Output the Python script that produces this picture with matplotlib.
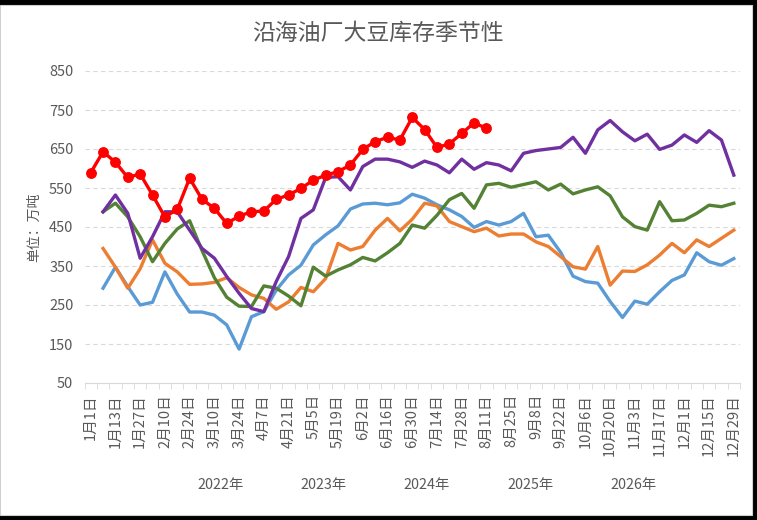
import numpy as np
import matplotlib
matplotlib.use("Agg")
import matplotlib.pyplot as plt
from matplotlib.patches import Rectangle

plt.rcParams['font.family'] = ['Noto Sans CJK SC', 'DejaVu Sans']

nan = np.nan
dates = ["1月1日", "1月6日", "1月13日", "1月20日", "1月27日", "2月3日", "2月10日", "2月17日",
         "2月24日", "3月3日", "3月10日", "3月17日", "3月24日", "3月31日", "4月7日", "4月14日",
         "4月21日", "4月28日", "5月5日", "5月12日", "5月19日", "5月26日", "6月2日", "6月9日",
         "6月16日", "6月23日", "6月30日", "7月7日", "7月14日", "7月21日", "7月28日", "8月4日",
         "8月11日", "8月18日", "8月25日", "9月1日", "9月8日", "9月15日", "9月22日", "9月29日",
         "10月6日", "10月13日", "10月20日", "10月27日", "11月3日", "11月10日", "11月17日",
         "11月24日", "12月1日", "12月8日", "12月15日", "12月22日", "12月29日"]

s2022 = [nan, 293, 347, 297, 250, 257, 335, 278, 232, 232, 224, 199, 137, 220, 233, 288, 327,
         352, 404, 430, 453, 496, 509, 511, 507, 512, 534, 524, 507, 494, 477, 449, 464, 455,
         464, 485, 425, 429, 385, 324, 310, 306, 259, 218, 260, 252, 284, 313, 327, 384, 361,
         352, 369]
s2023 = [nan, 395, 347, 293, 343, 417, 357, 335, 303, 304, 308, 320, 295, 276, 267, 239, 258,
         295, 284, 318, 408, 391, 400, 442, 472, 440, 470, 511, 504, 464, 451, 438, 447, 427,
         432, 432, 412, 400, 374, 348, 342, 400, 301, 337, 336, 353, 378, 408, 384, 417, 400,
         421, 442]
s2024 = [nan, 489, 511, 476, 425, 361, 408, 445, 466, 390, 320, 270, 247, 246, 299, 293, 273,
         248, 347, 324, 340, 353, 372, 363, 384, 408, 455, 447, 480, 520, 536, 498, 558, 562,
         552, 559, 566, 545, 560, 535, 545, 553, 530, 476, 451, 442, 515, 466, 468, 485, 506,
         502, 511]
s2025 = [nan, 489, 532, 485, 370, 425, 489, 489, 442, 395, 370, 323, 280, 241, 233, 310, 374,
         472, 494, 577, 579, 545, 605, 624, 624, 617, 603, 619, 609, 589, 624, 598, 615, 609,
         594, 639, 646, 650, 654, 680, 639, 699, 723, 694, 671, 688, 649, 660, 686, 667, 697,
         673, 583]
s2026 = [589, 643, 616, 577, 586, 532, 476, 495, 575, 521, 498, 459, 478, 489, 491, 521, 532,
         549, 570, 583, 592, 609, 649, 669, 680, 673, 731, 700, 654, 663, 690, 717, 703]

years = ["2022年", "2023年", "2024年", "2025年", "2026年"]
colors = ["#5B9BD5", "#ED7D31", "#548235", "#7030A0", "#FF0000"]
series = [s2022, s2023, s2024, s2025, s2026]

W, H = 757, 520
fig = plt.figure(figsize=(W / 100, H / 100), dpi=100)
fig.patch.set_facecolor('black')
bg = Rectangle((0, 5 / H), 752 / W, (515 - 5) / H, transform=fig.transFigure,
               facecolor='white', edgecolor='#d0d0d0', lw=0.8, zorder=-10)
fig.patches.append(bg)

ax = fig.add_axes([84.5 / W, 1 - 383 / H, (740 - 84.5) / W, (383 - 71) / H])
ax.set_facecolor('none')
ax.set_zorder(5)

txt = '#595959'
handles = []
for name, col, s in zip(years, colors, series):
    x = np.arange(len(s))
    if name == "2026年":
        h, = ax.plot(x, s, color=col, lw=2.4, marker='o', markersize=6.8, zorder=5,
                     solid_joinstyle='round')
    else:
        h, = ax.plot(x, s, color=col, lw=2.4, zorder=3, solid_joinstyle='round')
    handles.append(h)

ax.set_xlim(-0.5, len(dates) - 0.5)
ax.set_ylim(50, 850)
ax.set_yticks(np.arange(50, 851, 100))
ax.yaxis.grid(True, color='#d9d9d9', linestyle=(0, (4, 3)), lw=0.8)
ax.set_axisbelow(True)
for sp in ['top', 'right', 'left']:
    ax.spines[sp].set_visible(False)
ax.spines['bottom'].set_color('#d9d9d9')
ax.tick_params(axis='y', length=0, labelsize=10.5, labelcolor=txt, pad=8)

ax.set_xticks(np.arange(0, len(dates), 2))
ax.set_xticklabels(dates[::2], rotation=90, fontsize=10.5, color=txt)
ax.set_xticks(np.arange(-0.5, len(dates), 1), minor=True)
ax.tick_params(axis='x', which='major', length=0, pad=8)
ax.tick_params(axis='x', which='minor', length=4, color='#d9d9d9', direction='out')

ax.set_ylabel("单位：万吨", fontsize=10, color=txt, labelpad=6)

fig.text(378 / W, 1 - 33 / H, "沿海油厂大豆库存季节性", ha='center', va='center',
         fontsize=16.5, color=txt)

leg = fig.legend(handles, years, loc='center', bbox_to_anchor=(427 / W, 1 - 485 / H),
                 ncol=5, frameon=False, handlelength=0, handletextpad=0,
                 columnspacing=4.0, fontsize=10.3, labelcolor=txt)
for lh in leg.legend_handles:
    lh.set_visible(False)

fig.savefig("out.png", dpi=100, facecolor=fig.get_facecolor())
